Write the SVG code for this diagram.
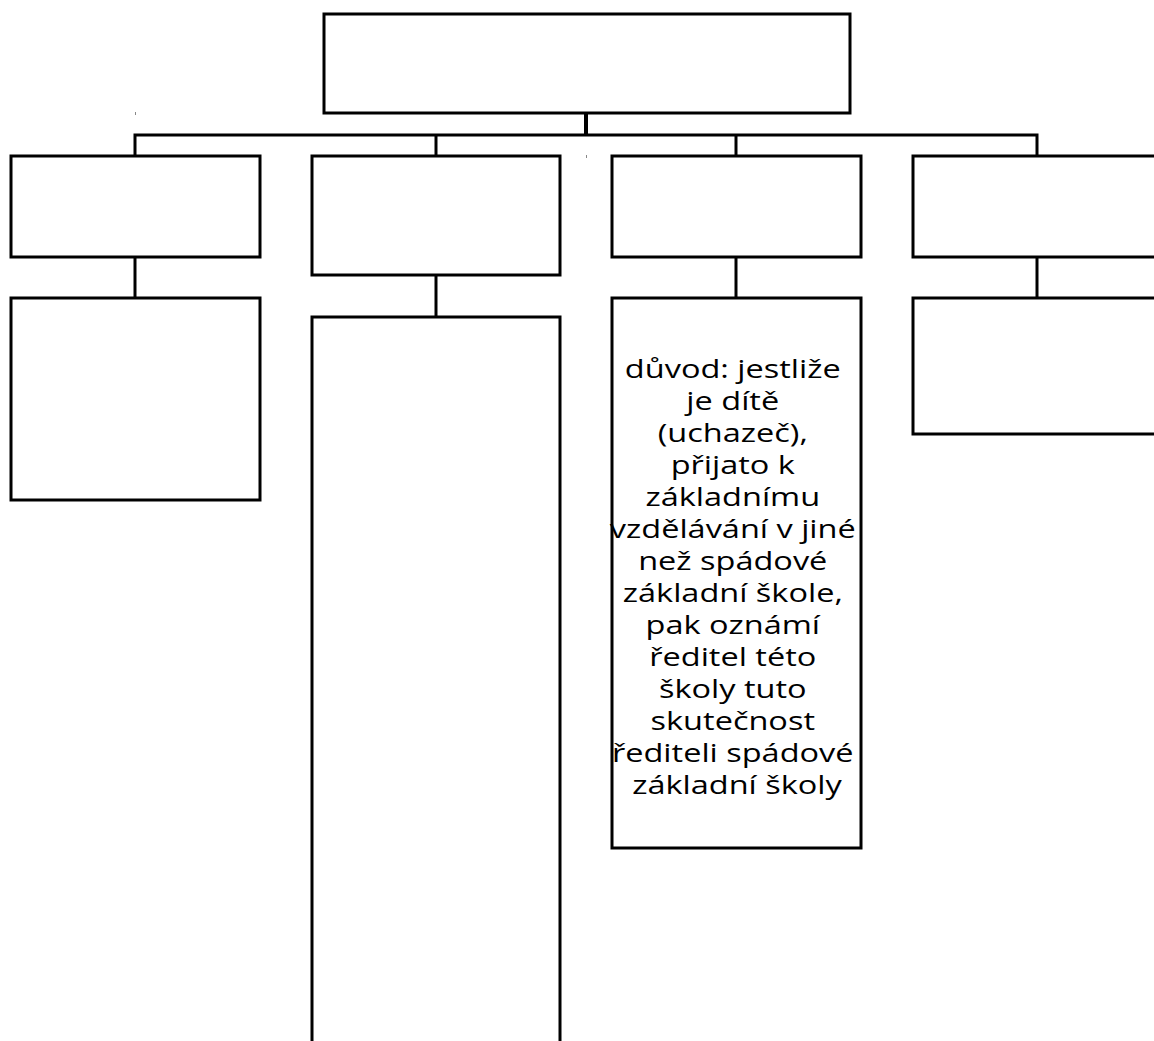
<svg xmlns="http://www.w3.org/2000/svg" width="1154" height="1041" viewBox="0 0 1154 1041">
<style>
.box{fill:#fff;stroke:#000;stroke-width:3}
.ln{stroke:#000;stroke-width:3;fill:none}
.tx{font-family:"Open Sans","Liberation Sans",sans-serif;font-size:26px;fill:#000;text-anchor:middle}
</style>
<rect width="1154" height="1041" fill="#fff"/>
<g id="connectors">
<line class="ln" x1="586" y1="113" x2="586" y2="135" style="stroke-width:4"/>
<polyline class="ln" points="135,156 135,135 1037,135 1037,156"/>
<line class="ln" x1="436" y1="135" x2="436" y2="156"/>
<line class="ln" x1="736" y1="135" x2="736" y2="156"/>
<line class="ln" x1="135" y1="257" x2="135" y2="298"/>
<line class="ln" x1="436" y1="275" x2="436" y2="317"/>
<line class="ln" x1="736" y1="257" x2="736" y2="298"/>
<line class="ln" x1="1037" y1="257" x2="1037" y2="298"/>
<rect x="135" y="112" width="1" height="3" fill="#888"/>
<rect x="586" y="155" width="1" height="3" fill="#888"/>
</g>
<g id="n-top"><rect class="box" x="324" y="14" width="526" height="99"/></g>
<g id="n-a1"><rect class="box" x="11" y="156" width="249" height="101"/></g>
<g id="n-b1"><rect class="box" x="312" y="156" width="248" height="119"/></g>
<g id="n-c1"><rect class="box" x="612" y="156" width="249" height="101"/></g>
<g id="n-d1"><rect class="box" x="913" y="156" width="260" height="101"/></g>
<g id="n-a2"><rect class="box" x="11" y="298" width="249" height="202"/></g>
<g id="n-b2"><rect class="box" x="312" y="317" width="248" height="740"/></g>
<g id="n-d2"><rect class="box" x="913" y="298" width="260" height="136"/></g>
<g id="n-c2"><rect class="box" x="612" y="298" width="249" height="550"/>
<text class="tx" transform="translate(737,0) scale(1.25,1)">
<tspan x="0" y="378">důvod: jestliže</tspan>
<tspan x="0" y="410">je dítě</tspan>
<tspan x="0" y="442">(uchazeč),</tspan>
<tspan x="0" y="474">přijato k</tspan>
<tspan x="0" y="506">základnímu</tspan>
<tspan x="0" y="538">vzdělávání v jiné</tspan>
<tspan x="0" y="570">než spádové</tspan>
<tspan x="0" y="602">základní škole,</tspan>
<tspan x="0" y="634">pak oznámí</tspan>
<tspan x="0" y="666">ředitel této</tspan>
<tspan x="0" y="698">školy tuto</tspan>
<tspan x="0" y="730">skutečnost</tspan>
<tspan x="0" y="762">řediteli spádové</tspan>
<tspan x="0" y="794">základní školy</tspan>
</text></g>
</svg>
